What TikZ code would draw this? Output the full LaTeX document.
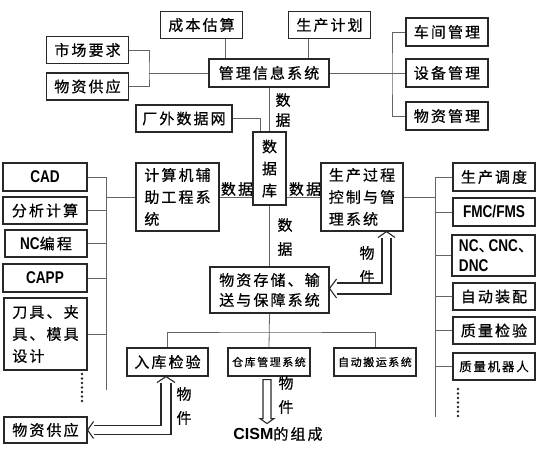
\documentclass[tikz,border=0pt]{standalone}
\usepackage{fontspec}
\setmainfont{Noto Sans CJK SC}[LetterSpace=14, FakeBold=0.6]
\newfontfamily\latin{Liberation Sans}[FakeStretch=0.8]
\newfontfamily\latinwide{Liberation Sans}
\usetikzlibrary{calc}
\definecolor{LineGray}{RGB}{100,100,100}
\definecolor{BoxGray}{RGB}{40,40,40}
\newcommand{\entext}[1]{{\latin\bfseries\fontsize{17}{20}\selectfont #1}}
\newcommand{\dun}{\makebox[10pt][l]{、}}

\begin{document}
\begin{tikzpicture}[x=1pt, y=-1pt,
    box/.style={rectangle, draw=BoxGray, line width=1.1pt, fill=white, inner sep=2pt,
                minimum width=82pt, minimum height=27pt,
                font=\fontsize{15}{22}\selectfont},
    small/.style={font=\fontsize{11}{13}\selectfont},
    lbl/.style={inner sep=0pt, align=center, font=\fontsize{15}{24}\selectfont},
    link/.style={draw=LineGray, line width=0.8pt},
    hollow/.style={draw=BoxGray, line width=1.1pt, line join=miter}
]
    \useasboundingbox (0,0) rectangle (544,452);

    % top: management level
    \node[box] (cost) at (201.5,25) {成本估算};
    \node[box] (plan) at (329.5,25) {生产计划};
    \node[box] (market) at (87.5,50) {市场要求};
    \node[box] (supplyA) at (87.5,86.5) {物资供应};
    \node[box, minimum width=120pt, minimum height=28pt] (mis) at (269,73) {管理信息系统};
    \node[box, minimum height=28pt] (shop) at (447,32) {车间管理};
    \node[box, minimum height=28pt] (equip) at (447,73) {设备管理};
    \node[box, minimum height=28pt] (matmgr) at (447,116) {物资管理};
    \node[box, minimum width=96pt] (extnet) at (184,118.5) {厂外数据网};

    % middle: database and the two systems
    \node[box, minimum width=33pt, minimum height=73pt, align=center] (db) at (269.5,168.5) {数\\据\\库};
    \node[box, minimum width=83pt, minimum height=68pt, align=left] (cae) at (177.5,197) {计算机辅\\助工程系\\统};
    \node[box, minimum width=82pt, minimum height=68pt, align=left] (pcs) at (362,197) {生产过程\\控制与管\\理系统};

    % left column
    \node[box, minimum width=84pt, minimum height=28pt] (cad) at (45,177) {\entext{CAD}};
    \node[box, minimum width=84pt] (fea) at (45,210.5) {分析计算};
    \node[box] (ncp) at (46,243.5) {\entext{NC}编程};
    \node[box, minimum width=84pt, minimum height=28pt] (capp) at (45,278) {\entext{CAPP}};
    \node[box, minimum width=83pt, minimum height=72pt, align=left] (tool) at (45.5,334) {刀具、夹\\具、模具\\设计};

    % right column
    \node[box, minimum height=28pt] (sched) at (494,177) {生产调度};
    \node[box, minimum height=28pt] (fmc) at (494,212) {\entext{FMC/FMS}};
    \node[box, minimum width=83pt, minimum height=41pt, align=left,
          font=\fontsize{15}{20}\selectfont] (cnc) at (493.5,255.5) {\entext{NC}\dun\entext{CNC}\dun\\\entext{DNC}};
    \node[box] (asm) at (494,296.5) {自动装配};
    \node[box] (qc) at (494,330.5) {质量检验};
    \node[box, font=\fontsize{12.5}{15}\selectfont] (robot) at (494,366.5) {质量机器人};

    % bottom: material flow
    \node[box, minimum width=119pt, minimum height=46pt, align=left,
          font=\fontsize{15}{20}\selectfont] (store) at (269.5,290) {物资存储、输\\送与保障系统};
    \node[box, minimum width=81pt, minimum height=28pt] (inspect) at (167.5,362) {入库检验};
    \node[box, small, minimum height=28pt] (whs) at (269,362) {仓库管理系统};
    \node[box, small, minimum height=28pt] (agv) at (375,362) {自动搬运系统};
    \node[box, minimum width=83pt, minimum height=26pt] (supplyB) at (45.5,430) {物资供应};
    \node[lbl] (cism) at (278,434) {{\latinwide\bfseries\fontsize{16}{18}\selectfont CISM}的组成};

    % labels
    \node[lbl, font=\fontsize{15}{20}\selectfont] (dmis) at (283,110) {数\\据};
    \node[lbl] (dcae) at (237,189) {数据};
    \node[lbl] (dpcs) at (305,189) {数据};
    \node[lbl] (ddb) at (285,237) {数\\据};
    \node[lbl] (wpcs) at (367,265) {物\\件};
    \node[lbl] (winsp) at (184,406) {物\\件};
    \node[lbl] (wwhs) at (286,395) {物\\件};

    % connectors, top
    \coordinate (lj) at (149,73);
    \draw[link] (market.east) -| (lj) |- (supplyA.east);
    \draw[link] (lj) -- (mis.west);
    \draw[link] ($(cost.south)+(23.5,0)$) coordinate (ct) -- (ct |- mis.north);
    \draw[link] ($(plan.south)+(-21,0)$) coordinate (pt) -- (pt |- mis.north);
    \coordinate (rj) at (392,73);
    \draw[link] (mis.east) -- (equip.west);
    \draw[link] (shop.west) -| (rj) |- (matmgr.west);
    \draw[link] (mis.south) -- (mis.south |- db.north);
    \draw[link] (extnet.east) -| ($(db.north)+(-9.5,0)$);

    % connectors, middle
    \draw[link] (cae.east) -- (cae.east -| db.west);
    \draw[link] (db.east |- pcs.west) -- (pcs.west);
    \draw[link] (db.south) -- (store.north);

    \coordinate (lb) at (106,390);
    \draw[link] (cad.east) -| (lb);
    \foreach \n in {fea,ncp,capp,tool}
        \draw[link] (\n.east) -- (\n.east -| lb);
    \draw[link] (cae.west) -- (cae.west -| lb);

    \coordinate (rb) at (435,417);
    \draw[link] (sched.west) -| (rb);
    \foreach \n in {fmc,cnc,asm,qc,robot}
        \draw[link] (\n.west) -- (\n.west -| rb);
    \draw[link] (pcs.east) -- (pcs.east -| rb);

    % connectors, bottom
    \coordinate (bj) at (269.5,332);
    \draw[link] (store.south) -- (whs.north);
    \draw[link] (inspect.north) |- (bj) -| (agv.north);

    \foreach \y in {374,378.5,...,405} \fill[BoxGray] (82,\y) circle (1.3pt);
    \foreach \y in {389,393.5,...,420} \fill[BoxGray] (458,\y) circle (1.3pt);

    % hollow arrows
    \coordinate (m1) at ($(store.east)+(0,-1.5)$);
    \coordinate (m2) at ($(pcs.south)+(24.5,0)$);
    \draw[hollow] ($(m1)+(7,-5.5)$) -| ($(m2)+(-4.5,6)$);
    \draw[hollow] ($(m1)+(7,5.5)$) -| ($(m2)+(4.5,6)$);
    \draw[hollow] ($(m1)+(7,-9.5)$) -- (m1) -- ($(m1)+(7,9.5)$);
    \draw[hollow] ($(m2)+(-8.5,6)$) -- (m2) -- ($(m2)+(8.5,6)$);

    \coordinate (m3) at (supplyB.east);
    \coordinate (m4) at ($(inspect.south)+(-1.5,0)$);
    \draw[hollow] ($(m3)+(6,-4.5)$) -| ($(m4)+(-5,6)$);
    \draw[hollow] ($(m3)+(6,4.5)$) -| ($(m4)+(5,6)$);
    \draw[hollow] ($(m3)+(6,-8.5)$) -- (m3) -- ($(m3)+(6,8.5)$);
    \draw[hollow] ($(m4)+(-9,6)$) -- (m4) -- ($(m4)+(9,6)$);

    \coordinate (m5) at ($(whs.south)+(-2,0)$);
    \draw[hollow] ($(m5)+(-4,3)$) -- ($(m5)+(4,3)$) -- ($(m5)+(4,42)$) -- ($(m5)+(7,42)$)
        -- ($(m5)+(0,47)$) -- ($(m5)+(-7,42)$) -- ($(m5)+(-4,42)$) -- cycle;
\end{tikzpicture}
\end{document}
